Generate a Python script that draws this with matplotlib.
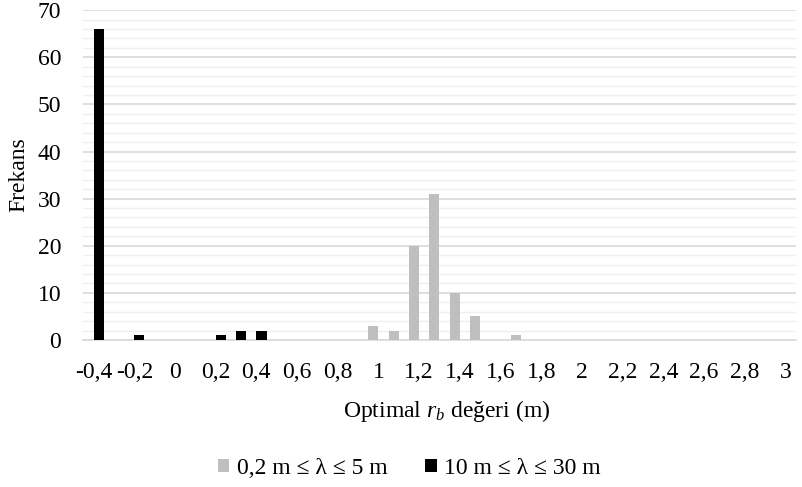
import matplotlib.pyplot as plt
import numpy as np

plt.rcParams['font.family'] = ['Liberation Serif', 'DejaVu Serif']
plt.rcParams['mathtext.fontset'] = 'custom'
plt.rcParams['mathtext.rm'] = 'Liberation Serif'
plt.rcParams['mathtext.it'] = 'Liberation Serif:italic'

categories = ['-0,4', '-0,3', '-0,2', '-0,1', '0', '0,1', '0,2', '0,3', '0,4', '0,5',
              '0,6', '0,7', '0,8', '0,9', '1', '1,1', '1,2', '1,3', '1,4', '1,5',
              '1,6', '1,7', '1,8', '1,9', '2', '2,1', '2,2', '2,3', '2,4', '2,5',
              '2,6', '2,7', '2,8', '2,9', '3']
# 0,2 m <= lambda <= 5 m
short_waves = [0, 0, 0, 0, 0, 0, 0, 0, 0, 0,
               0, 0, 0, 0, 3, 2, 20, 31, 10, 5,
               0, 1, 0, 0, 0, 0, 0, 0, 0, 0,
               0, 0, 0, 0, 0]
# 10 m <= lambda <= 30 m
long_waves = [66, 0, 1, 0, 0, 0, 1, 2, 2, 0,
              0, 0, 0, 0, 0, 0, 0, 0, 0, 0,
              0, 0, 0, 0, 0, 0, 0, 0, 0, 0,
              0, 0, 0, 0, 0]
series_names = ['0,2 m ≤ λ ≤ 5 m', '10 m ≤ λ ≤ 30 m']

fs = 17
fig = plt.figure(figsize=(8.02, 4.87), dpi=100)
ax = fig.add_axes([0.104, 0.302, 0.888, 0.677])

x = np.arange(len(categories))
w = 0.5
ax.bar(x - 0.25, short_waves, w, color='#bfbfbf', label=series_names[0], zorder=3)
ax.bar(x + 0.25, long_waves, w, color='#000000', label=series_names[1], zorder=3)

ax.set_xlim(-0.5, len(categories) - 0.5)
ax.set_ylim(0, 70)
ax.set_yticks(range(0, 71, 10))
ax.set_yticks(range(0, 71, 2), minor=True)
ax.grid(axis='y', which='major', color='#d9d9d9', linewidth=1.2, zorder=0)
ax.grid(axis='y', which='minor', color='#efefef', linewidth=1.0, zorder=0)
ax.tick_params(axis='y', which='both', length=0, labelsize=fs, pad=16)

ax.set_xticks(x[::2])
ax.set_xticklabels(categories[::2])
ax.tick_params(axis='x', length=0, labelsize=fs, pad=16)

for s in ['top', 'right', 'left']:
    ax.spines[s].set_visible(False)
ax.spines['bottom'].set_color('#d9d9d9')
ax.spines['bottom'].set_linewidth(1.2)

ax.set_ylabel('Frekans', fontsize=fs, labelpad=6)
ax.set_xlabel('Optimal $r_b$ değeri (m)', fontsize=fs)
ax.xaxis.set_label_coords(0.51, -0.176)

fig.legend(loc='center', bbox_to_anchor=(0.51, 0.038), ncol=2, frameon=False,
           fontsize=fs, handlelength=0.5, handleheight=0.5, handletextpad=0.3,
           columnspacing=1.6)

fig.savefig('out.png', dpi=100)
